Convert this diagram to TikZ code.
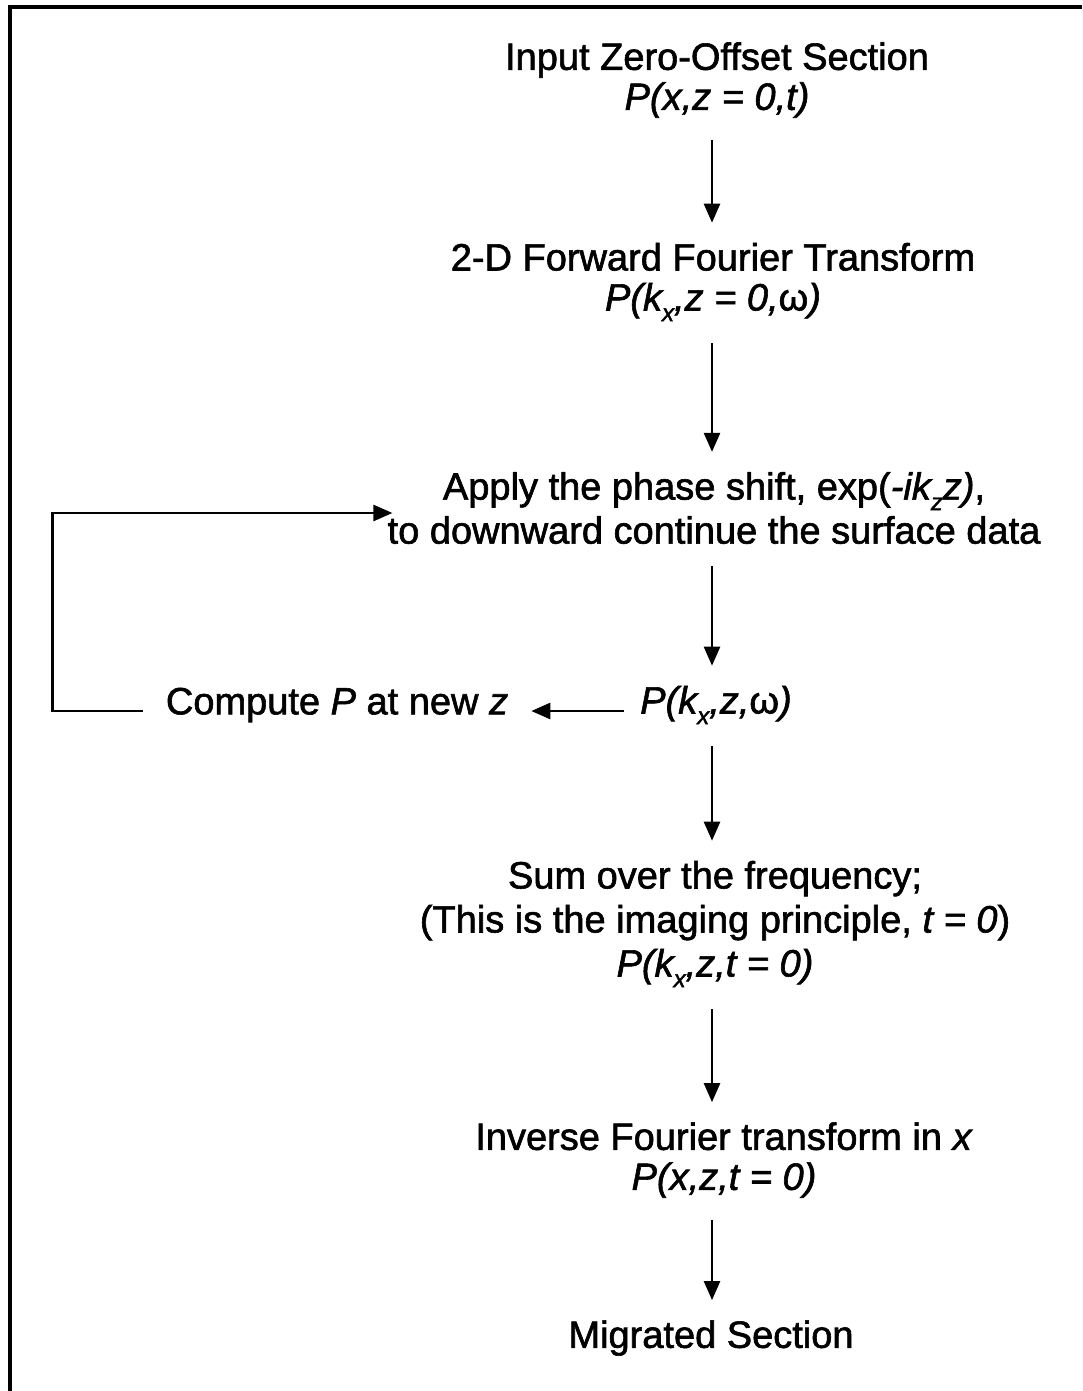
\documentclass[tikz,border=0pt]{standalone}
\usepackage{fontspec}
\setmainfont{Liberation Sans}[FakeBold=1.6]
\usetikzlibrary{arrows.meta}
\newcommand{\sbx}[1]{\raisebox{-0.28em}{\fontsize{24}{24}\selectfont #1}}
\tikzset{
  lbl/.style={align=center, inner sep=0pt, font=\fontsize{38}{44}\selectfont},
  arr/.style={line width=2.5pt, -{Triangle[width=16pt,length=19pt]}},
  framel/.style={line width=4pt}
}
\begin{document}
\begin{tikzpicture}[x=1pt,y=-1pt]
\useasboundingbox (0,0) rectangle (1082,1391);
\draw[framel] (10,1391) -- (10,7) -- (1082,7);
\coordinate (ax) at (712,0);
\node[lbl] (n1) at (717,80) {Input Zero-Offset Section\\[-4pt]\textit{P(x,z = 0,t)}};
\node[lbl] (n2) at (713,282) {2-D Forward Fourier Transform\\[-4pt]\textit{P(k\sbx{x},z = 0,}ω\textit{)}};
\node[lbl] (n3) at (714,508) {Apply the phase shift, exp(\textit{-ik\sbx{z}z)},\\to downward continue the surface data};
\node[lbl] (n4) at (716,705) {\textit{P(k\sbx{x},z,}ω\textit{)}};
\node[lbl] (cmp) at (337,705) {Compute \textit{P} at new \textit{z}};
\node[lbl] (n5) at (715,924) {Sum over the frequency;\\(This is the imaging principle, \textit{t = 0})\\\textit{P(k\sbx{x},z,t = 0)}};
\node[lbl] (n6) at (724,1160) {Inverse Fourier transform in \textit{x}\\[-4pt]\textit{P(x,z,t = 0)}};
\node[lbl] (n7) at (711,1338) {Migrated Section};
\draw[arr, shorten <=22pt, shorten >=20pt] (n1.south -| ax) -- (n2.north -| ax);
\draw[arr, shorten <=22pt, shorten >=20pt] (n2.south -| ax) -- (n3.north -| ax);
\draw[arr, shorten <=22pt, shorten >=20pt] (n3.south -| ax) -- (n4.north -| ax);
\draw[arr, shorten <=22pt, shorten >=20pt] (n4.south -| ax) -- (n5.north -| ax);
\draw[arr, shorten <=22pt, shorten >=20pt] (n5.south -| ax) -- (n6.north -| ax);
\draw[arr, shorten <=22pt, shorten >=20pt] (n6.south -| ax) -- (n7.north -| ax);
\draw[arr, shorten <=16pt, shorten >=23pt] ([yshift=-6pt]n4.west) -- ([yshift=-6pt]cmp.east);
\draw[arr, shorten <=23pt, shorten >=-5pt] ([yshift=-6pt]cmp.west) -- ++(-113,0) |- ([yshift=-5pt]n3.west);
\end{tikzpicture}
\end{document}
